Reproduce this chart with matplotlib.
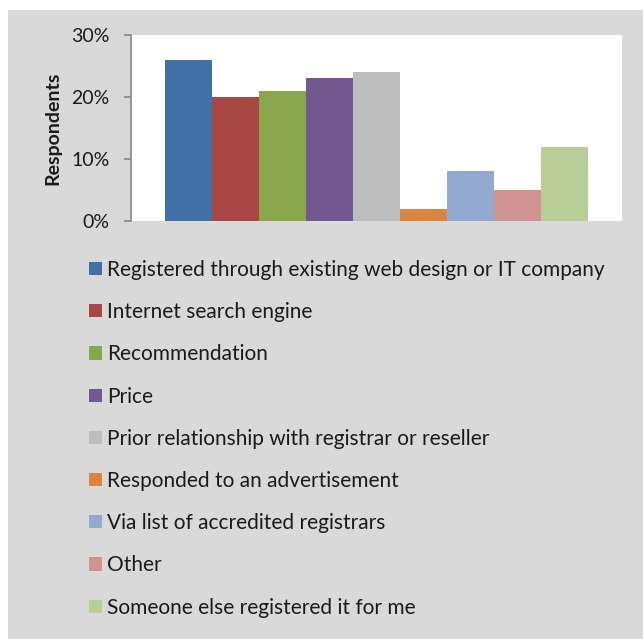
import matplotlib
matplotlib.use("Agg")
import matplotlib.pyplot as plt
from matplotlib.patches import Rectangle, Patch
from matplotlib.ticker import PercentFormatter
import numpy as np

plt.rcParams['font.family'] = ['Lato', 'DejaVu Sans']

categories = [
    "Registered through existing web design or IT company",
    "Internet search engine",
    "Recommendation",
    "Price",
    "Prior relationship with registrar or reseller",
    "Responded to an advertisement",
    "Via list of accredited registrars",
    "Other",
    "Someone else registered it for me",
]
values = [26, 20, 21, 23, 24, 2, 8, 5, 12]
colors = ["#4170A7", "#A94744", "#8AA64C", "#71588F", "#BEBEBE",
          "#DB843D", "#93A9CF", "#D19392", "#B9CD96"]
y_ticks = [0, 10, 20, 30]

W, H = 643, 639
fig = plt.figure(figsize=(W / 100, H / 100), dpi=100)
fig.patch.set_facecolor("white")

# grey chart area
fig.patches.append(Rectangle((8 / W, 0), 1, 1 - 10 / H, transform=fig.transFigure,
                             facecolor="#D9D9D9", edgecolor="none", zorder=-10))

ax = fig.add_axes([131 / W, 1 - 221 / H, (622 - 131) / W, (221 - 35) / H])
ax.set_facecolor("white")

x = np.arange(len(values))
ax.bar(x, values, width=1.0, color=colors, edgecolor="none", zorder=2)
ax.set_xlim(-1.23, len(values) - 1 + 1.23)
ax.set_ylim(0, 30)
ax.set_yticks(y_ticks)
ax.yaxis.set_major_formatter(PercentFormatter(decimals=0))
ax.set_xticks([])

for s in ["top", "right", "bottom"]:
    ax.spines[s].set_visible(False)
ax.spines["left"].set_color("#868686")
ax.spines["left"].set_linewidth(1.2)
ax.tick_params(axis="y", direction="out", length=5, width=1.2, color="#868686",
               labelsize=14, labelcolor="#1A1A1A", pad=10.5)
ax.set_ylabel("Respondents", fontsize=14, fontweight="bold", color="#1A1A1A", labelpad=7)

handles = [Patch(facecolor=c, edgecolor="none") for c in colors]
fig.legend(handles, categories, loc="upper left",
           bbox_to_anchor=(89 / W, 1 - 260 / H), frameon=False,
           fontsize=15, handlelength=0.6, handleheight=0.6,
           handletextpad=0.25, labelspacing=1.065, borderpad=0, borderaxespad=0,
           labelcolor="#1A1A1A")

fig.savefig("out.png", dpi=100, facecolor=fig.get_facecolor())
